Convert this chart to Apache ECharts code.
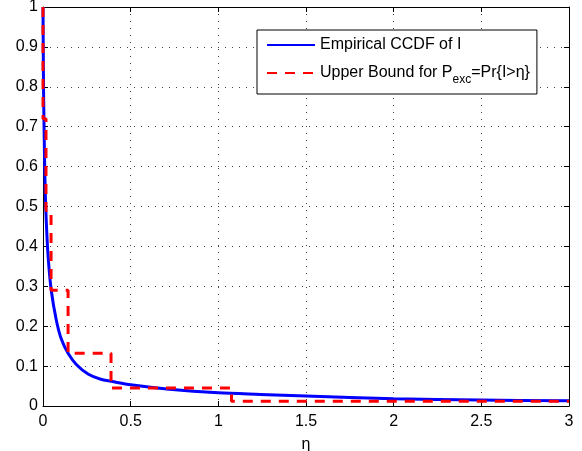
<!DOCTYPE html>
<html>
<head>
<meta charset="UTF-8">
<title>CCDF</title>
<script src="https://cdn.jsdelivr.net/npm/echarts@6/dist/echarts.min.js"></script>
</head>
<body style="margin:0">
<div id="chart" style="width:582px;height:451px"></div>
<script>
// empirical CCDF of I
const ccdfEta = [0, 0.003, 0.006, 0.012, 0.02, 0.03, 0.047, 0.076, 0.105, 0.143, 0.19, 0.257, 0.33, 0.39, 0.5, 0.72, 1.0, 1.24, 1.5, 2.0, 2.5, 3.0];
const ccdfVal = [1, 0.8, 0.7, 0.55, 0.45, 0.37, 0.29, 0.215, 0.167, 0.132, 0.104, 0.08, 0.067, 0.062, 0.053, 0.042, 0.033, 0.029, 0.025, 0.018, 0.015, 0.013];
// upper bound, staircase corners
const boundEta = [0, 0, 0.017, 0.017, 0.046, 0.046, 0.143, 0.143, 0.388, 0.388, 1.075, 1.075, 3.0];
const boundVal = [1, 0.72, 0.72, 0.49, 0.49, 0.29, 0.29, 0.132, 0.132, 0.045, 0.045, 0.012, 0.012];

const font = 'Liberation Sans';
const zip = (xs, ys) => xs.map((x, i) => [x, ys[i]]);

const chart = echarts.init(document.getElementById('chart'));

const baseAxis = {
  type: 'value',
  axisLine: { show: true, onZero: false, lineStyle: { color: '#000', width: 1 } },
  axisTick: { show: true, inside: true, length: 5, lineStyle: { color: '#000' } },
  splitLine: { show: false }
};
const gridDots = { show: true, lineStyle: { color: '#444', type: [1, 6], width: 1 } };

chart.setOption({
  animation: false,
  grid: { left: 43, right: 13, top: 7, bottom: 45, outerBoundsMode: 'none' },
  legend: {
    orient: 'vertical',
    left: 257, top: 30,
    padding: [7, 7, 8, 9],
    itemGap: 12,
    itemWidth: 48,
    itemHeight: 10,
    borderColor: '#000', borderWidth: 1,
    backgroundColor: '#fff',
    itemStyle: { color: 'rgba(0,0,0,0)', borderWidth: 0 },
    textStyle: {
      fontFamily: font, fontSize: 16, color: '#000',
      rich: { sub: { fontFamily: font, fontSize: 12, color: '#000', verticalAlign: 'bottom', padding: [14, 0, 0, 0] } }
    },
    data: ['Empirical CCDF of I', 'Upper Bound for P{sub|exc}=Pr{I>η}']
  },
  xAxis: [
    Object.assign({}, baseAxis, {
      min: 0, max: 3, interval: 0.5,
      name: 'η', nameLocation: 'middle', nameGap: 31,
      nameTextStyle: { fontFamily: font, fontSize: 16, color: '#000' },
      axisLabel: { fontFamily: font, fontSize: 16, color: '#000', margin: 8 },
      splitLine: gridDots
    }),
    Object.assign({}, baseAxis, {
      min: 0, max: 3, interval: 0.5, position: 'top',
      axisLabel: { show: false }
    })
  ],
  yAxis: [
    Object.assign({}, baseAxis, {
      min: 0, max: 1, interval: 0.1,
      axisLabel: { fontFamily: font, fontSize: 16, color: '#000', margin: 5, formatter: v => String(+v.toFixed(1)) },
      splitLine: gridDots
    }),
    Object.assign({}, baseAxis, {
      min: 0, max: 1, interval: 0.1, position: 'right',
      axisLabel: { show: false }
    })
  ],
  series: [
    {
      name: 'Empirical CCDF of I',
      type: 'line',
      data: zip(ccdfEta, ccdfVal),
      symbol: 'none',
      smooth: 0.3,
      lineStyle: { color: '#0000ff', width: 3 },
      itemStyle: { color: '#0000ff' },
      z: 2
    },
    {
      name: 'Upper Bound for P{sub|exc}=Pr{I>η}',
      type: 'line',
      data: zip(boundEta, boundVal),
      symbol: 'none',
      lineStyle: { color: '#ff0000', width: 3, type: [10, 8] },
      itemStyle: { color: '#ff0000' },
      z: 3
    }
  ]
});
</script>
</body>
</html>
